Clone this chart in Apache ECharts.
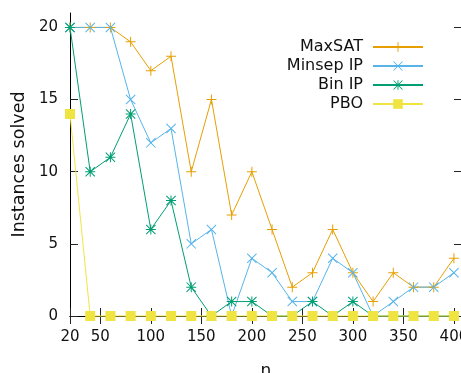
<!DOCTYPE html>
<html><head><meta charset="utf-8">
<script src="https://cdn.jsdelivr.net/npm/echarts@6/dist/echarts.min.js"></script>
<style>html,body{margin:0;padding:0;background:#fff}#c{width:461px;height:373px}</style>
</head><body><div id="c"></div>
<script>
const nValues = [20,40,60,80,100,120,140,160,180,200,220,240,260,280,300,320,340,360,380,400];
const maxsat  = [20,20,20,19,17,18,10,15,7,10,6,2,3,6,3,1,3,2,2,4];
const minsep  = [20,20,20,15,12,13,5,6,0,4,3,1,1,4,3,0,1,2,2,3];
const binip   = [20,10,11,14,6,8,2,0,1,1,0,0,1,0,1,0,0,0,0,0];
const pbo     = [14,0,0,0,0,0,0,0,0,0,0,0,0,0,0,0,0,0,0,0];
const xTicks  = [20,50,100,150,200,250,300,350,400];
const yTicks  = [0,5,10,15,20];

const PLUS = 'path://M4.5,0h1v10h-1z M0,4.5h10v1h-10z';
const CROSS = 'path://M0,0.7L0.7,0L10,9.3L9.3,10Z M9.3,0L10,0.7L0.7,10L0,9.3Z';
const STAR = 'path://M4.5,0h1v10h-1z M0,4.5h10v1h-10z M0,0.7L0.7,0L10,9.3L9.3,10Z M9.3,0L10,0.7L0.7,10L0,9.3Z';
const FONT = 'DejaVu Sans';

function mk(name, arr, color, symbol, size) {
  return {
    name, type: 'line', data: nValues.map((n,i)=>[n, arr[i]]),
    symbol, symbolSize: size, showAllSymbol: true, clip: false,
    lineStyle: {color, width: 1}, itemStyle: {color},
    emphasis: {disabled: true}, animation: false
  };
}
const chart = echarts.init(document.getElementById('c'), null, {renderer: 'canvas'});
const axisCommon = {
  axisLine: {show: true, lineStyle: {color: '#000', width: 1}},
  axisTick: {show: true, inside: true, length: 8, lineStyle: {color: '#222', width: 1}},
  splitLine: {show: false}
};
chart.setOption({
  animation: false,
  textStyle: {fontFamily: FONT},
  grid: {left: 70, top: 13, width: 392, height: 303, containLabel: false, outerBoundsMode: 'none'},
  legend: {
    orient: 'vertical', right: 32, top: 34, align: 'right',
    itemWidth: 50, itemHeight: 12, itemGap: 3,
    textStyle: {fontFamily: FONT, fontSize: 16, color: '#111', padding: [0, 5, 0, 0]},
    data: ['MaxSAT','Minsep IP','Bin IP','PBO']
  },
  xAxis: [
    Object.assign({}, axisCommon, {
      type: 'value', min: 20, max: 408, position: 'bottom',
      name: 'n', nameLocation: 'middle', nameGap: 47,
      nameTextStyle: {fontFamily: FONT, fontSize: 17, color: '#111'},
      axisTick: Object.assign({}, axisCommon.axisTick, {customValues: xTicks}),
      axisLabel: {customValues: xTicks, fontFamily: FONT, fontSize: 15, color: '#111', margin: 14}
    }),
    Object.assign({}, axisCommon, {
      type: 'value', min: 20, max: 408, position: 'top',
      axisTick: Object.assign({}, axisCommon.axisTick, {customValues: xTicks}),
      axisLabel: {show: false}
    })
  ],
  yAxis: [
    Object.assign({}, axisCommon, {
      type: 'value', min: 0, max: 21, position: 'left',
      name: 'Instances solved', nameLocation: 'middle', nameGap: 41, nameRotate: 90,
      nameTextStyle: {fontFamily: FONT, fontSize: 17.5, color: '#111'},
      axisTick: Object.assign({}, axisCommon.axisTick, {customValues: yTicks}),
      axisLabel: {customValues: yTicks, fontFamily: FONT, fontSize: 15, color: '#111', margin: 12}
    }),
    Object.assign({}, axisCommon, {
      type: 'value', min: 0, max: 21, position: 'right',
      axisTick: Object.assign({}, axisCommon.axisTick, {customValues: yTicks}),
      axisLabel: {show: false}
    })
  ],
  series: [
    mk('MaxSAT', maxsat, '#e69f00', PLUS, 10),
    mk('Minsep IP', minsep, '#56b4e9', CROSS, 10),
    mk('Bin IP', binip, '#009e73', STAR, 10),
    mk('PBO', pbo, '#f0e442', 'rect', 10)
  ]
});
</script></body></html>
